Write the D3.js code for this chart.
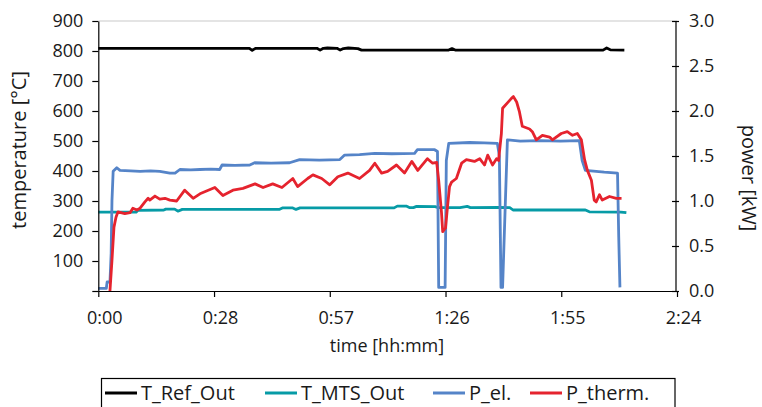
<!DOCTYPE html>
<html>
<head>
<meta charset="utf-8">
<script src="https://cdn.jsdelivr.net/npm/d3@7"></script>
<style>
  html, body { margin: 0; padding: 0; background: #fff; }
  svg { display: block; }
  text { font-family: "Open Sans", "Noto Sans", sans-serif; fill: #1a1a1a; }
</style>
</head>
<body>
<svg id="chart" width="762" height="407"></svg>
<script>
// Time axis ticks in minutes (0.02 day steps)
const timeTicks = [0, 28.8, 57.6, 86.4, 115.2, 144];
const tempTicks = [0, 100, 200, 300, 400, 500, 600, 700, 800, 900];
const powerTicks = [0, 0.5, 1.0, 1.5, 2.0, 2.5, 3.0];

// T_Ref_Out [°C] : [minutes, value]
const tRefOut = [
  [0, 809], [10, 809], [20, 809], [30, 809], [37.6, 809], [38.3, 802], [39.1, 809],
  [45, 809], [54.4, 809], [55.2, 803], [56.0, 809], [57.0, 810], [59.4, 809], [60.2, 803],
  [61.0, 808], [62.2, 810], [64.6, 808], [65.5, 803], [70, 803], [80, 803],
  [87.2, 803], [88.0, 808], [88.8, 803], [100, 803], [110, 803], [120, 803],
  [125.6, 803], [126.5, 810], [127.4, 804], [130.9, 803]
];

// T_MTS_Out [°C]
const tMtsOut = [
  [0, 263], [9.4, 263], [9.9, 269], [16.3, 270], [16.8, 273], [19.0, 273], [19.8, 266],
  [20.9, 272], [30, 272], [40, 272], [45.0, 272], [45.8, 277], [48.4, 277], [49.2, 272],
  [50.2, 277], [60, 277], [73.6, 277], [74.4, 283], [76.6, 283], [77.4, 278], [78.4, 278],
  [79.2, 282], [83.8, 281], [84.6, 278], [90, 278], [91.8, 282], [92.6, 278], [99.6, 279],
  [102.4, 278], [103.2, 270], [110, 270], [121.2, 270], [122.2, 264], [130, 263], [131.4, 261]
];

// P_el. [kW]
const pEl = [
  [0, 0.03], [2.0, 0.03], [2.2, 0.1], [2.9, 0.1], [3.2, 0.42], [3.4, 1.0], [3.7, 1.33],
  [4.6, 1.37], [5.4, 1.34], [8, 1.335], [10.4, 1.33], [13, 1.335], [15.3, 1.33],
  [17.8, 1.31], [19.1, 1.31], [20.3, 1.35], [23, 1.345], [25.3, 1.35], [28, 1.355],
  [30.2, 1.35], [30.8, 1.40], [34, 1.395], [37.7, 1.40], [38.9, 1.425], [43, 1.42],
  [47.6, 1.425], [50.1, 1.46], [55, 1.455], [60.1, 1.46], [61.3, 1.51], [65, 1.515],
  [68.8, 1.53], [73, 1.525], [78.7, 1.53], [79.4, 1.57], [83.7, 1.57], [84.4, 1.55],
  [84.7, 0.04], [86.3, 0.04], [86.6, 1.45], [87.2, 1.64], [92.4, 1.65], [96, 1.645],
  [99.3, 1.64], [99.8, 1.5], [100.2, 0.04], [100.6, 0.04], [101.3, 1.0], [101.8, 1.68],
  [105, 1.665], [109.8, 1.67], [115, 1.665], [119.7, 1.67], [120.4, 1.45], [121.2, 1.34],
  [125.9, 1.32], [129.2, 1.31], [129.5, 0.6], [129.8, 0.04]
];

// P_therm. [kW]
const pTherm = [
  [2.9, 0.0], [3.4, 0.34], [3.9, 0.71], [4.4, 0.82], [4.9, 0.88], [6.6, 0.86], [7.9, 0.87],
  [8.6, 0.92], [9.6, 0.90], [10.4, 0.92], [11.6, 0.99], [12.4, 1.03], [12.8, 1.01],
  [14.1, 1.055], [15.3, 1.02], [16.6, 1.03], [17.8, 1.01], [19.5, 1.0], [21.5, 1.12],
  [23.6, 1.03], [25.3, 1.08], [29.0, 1.15], [31.0, 1.06], [33.5, 1.12], [36.0, 1.14],
  [39.0, 1.19], [41.0, 1.15], [43.4, 1.19], [45.7, 1.15], [48.4, 1.25], [49.6, 1.16],
  [52.1, 1.25], [53.4, 1.29], [55.6, 1.25], [57.6, 1.18], [59.6, 1.27], [62.1, 1.31],
  [65.0, 1.25], [67.5, 1.34], [68.8, 1.42], [70.5, 1.31], [72.0, 1.33], [74.2, 1.40],
  [76.2, 1.31], [78.0, 1.44], [79.5, 1.34], [81.9, 1.47], [83.2, 1.42], [84.2, 1.43],
  [84.7, 1.23], [85.4, 0.87], [85.7, 0.66], [86.4, 0.70], [86.9, 0.94], [87.4, 1.16],
  [87.9, 1.21], [89.1, 1.25], [90.4, 1.42], [91.6, 1.46], [93.6, 1.44], [94.9, 1.47],
  [96.1, 1.40], [96.9, 1.51], [98.1, 1.40], [99.1, 1.47], [99.6, 1.45], [100.3, 1.75],
  [100.6, 2.03], [101.8, 2.09], [102.8, 2.14], [103.3, 2.16], [104.1, 2.10], [104.8, 1.99],
  [105.5, 1.83], [107.3, 1.80], [108.0, 1.77], [109.0, 1.68], [110.5, 1.73], [112.3, 1.71],
  [113.0, 1.68], [115.2, 1.75], [116.7, 1.77], [118.0, 1.73], [119.2, 1.75], [120.2, 1.68],
  [121.0, 1.46], [121.7, 1.34], [122.7, 1.23], [123.4, 1.01], [123.9, 0.99], [124.7, 1.07],
  [125.4, 1.01], [127.2, 1.05], [128.9, 1.03], [130.2, 1.03]
];

const seriesNames = ["T_Ref_Out", "T_MTS_Out", "P_el.", "P_therm."];
const seriesColors = ["#000000", "#069ba6", "#5584c8", "#e5232e"];

const svg = d3.select("#chart");
const plotLeft = 98.3, plotRight = 677, plotTop = 21, plotBottom = 291;

const x = d3.scaleLinear().domain([0, 144]).range([plotLeft, plotRight]);
const yT = d3.scaleLinear().domain([0, 900]).range([plotBottom, plotTop]);
const yP = d3.scaleLinear().domain([0, 3]).range([plotBottom, plotTop]);

const fmtTime = m => Math.floor(m / 60) + ":" + String(Math.floor(m % 60)).padStart(2, "0");

// top border of the plot area
svg.append("line")
  .attr("x1", plotLeft).attr("x2", plotRight).attr("y1", plotTop).attr("y2", plotTop)
  .attr("stroke", "#c9c9c9").attr("stroke-width", 1.2);

// series
const lineT = d3.line().x(d => x(d[0])).y(d => yT(d[1]));
const lineP = d3.line().x(d => x(d[0])).y(d => yP(d[1]));
const plots = [
  [tRefOut, lineT, seriesColors[0]],
  [tMtsOut, lineT, seriesColors[1]],
  [pEl, lineP, seriesColors[2]],
  [pTherm, lineP, seriesColors[3]]
];
plots.forEach(([data, gen, color]) => {
  svg.append("path").datum(data)
    .attr("d", gen)
    .attr("fill", "none")
    .attr("stroke", color)
    .attr("stroke-width", 2.8)
    .attr("stroke-linejoin", "round");
});

// axes
const axisStyle = g => {
  g.selectAll("path.domain").attr("stroke", "#000").attr("stroke-width", 1.2);
  g.selectAll(".tick line").attr("stroke", "#000").attr("stroke-width", 1.2);
  g.selectAll(".tick text").attr("font-size", 18).attr("fill", "#1a1a1a")
    .attr("font-family", "'Open Sans', sans-serif");
};

const gx = svg.append("g").attr("transform", `translate(0,${plotBottom})`)
  .call(d3.axisBottom(x).tickValues(timeTicks).tickFormat(fmtTime).tickSize(6).tickSizeOuter(0).tickPadding(14))
  .call(axisStyle);
gx.selectAll(".tick text").attr("dx", 6);

const gl = svg.append("g").attr("transform", `translate(${plotLeft},0)`)
  .call(d3.axisLeft(yT).tickValues(tempTicks).tickFormat(d => d === 0 ? "" : d).tickSize(6).tickSizeOuter(0).tickPadding(9))
  .call(axisStyle);

const gr = svg.append("g").attr("transform", `translate(${plotRight - 1.5},0)`)
  .call(d3.axisRight(yP).tickValues(powerTicks).tickFormat(d3.format(".1f")).tickSize(3.5).tickSizeOuter(0).tickPadding(10))
  .call(axisStyle);
gr.selectAll(".tick line").attr("x1", -3.5);

// axis titles
svg.append("text")
  .attr("transform", `translate(26,150) rotate(-90)`)
  .attr("text-anchor", "middle").attr("font-size", 20)
  .text("temperature [°C]");
svg.append("text")
  .attr("transform", `translate(742,178) rotate(90)`)
  .attr("text-anchor", "middle").attr("font-size", 20)
  .text("power [kW]");
svg.append("text")
  .attr("x", 387).attr("y", 352)
  .attr("text-anchor", "middle").attr("font-size", 18)
  .text("time [hh:mm]");

// legend
const legend = svg.append("g");
legend.append("rect")
  .attr("x", 101.5).attr("y", 378.5).attr("width", 573.5).attr("height", 40)
  .attr("fill", "none").attr("stroke", "#000").attr("stroke-width", 1.2);
const legendX = [105, 265, 433, 530];
seriesNames.forEach((name, i) => {
  const g = legend.append("g").attr("transform", `translate(${legendX[i]},393)`);
  g.append("line").attr("x1", 0).attr("x2", 32).attr("y1", 0).attr("y2", 0)
    .attr("stroke", seriesColors[i]).attr("stroke-width", 3);
  g.append("text").attr("x", 36).attr("y", 7).attr("font-size", 20).text(name);
});
</script>
</body>
</html>
